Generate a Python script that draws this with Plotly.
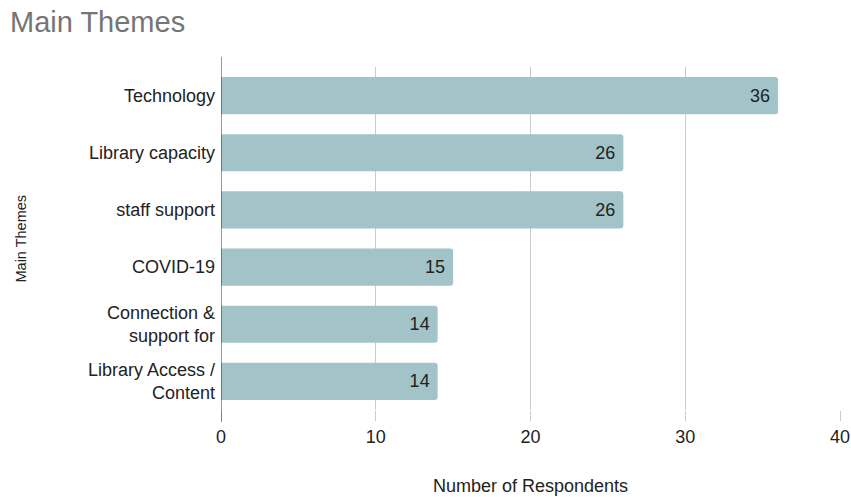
import plotly.graph_objects as go

categories = ["Technology", "Library capacity", "staff support", "COVID-19",
              "Connection &<br>support for", "Library Access /<br>Content"]
values = [36, 26, 26, 15, 14, 14]

FONT = "Liberation Sans, Arial, sans-serif"
W, H = 851, 497
L, R, T, B = 221, 11, 67, 87
PW, PH = W - L - R, H - T - B

fig = go.Figure(go.Bar(
    x=values, y=categories, orientation="h",
    marker=dict(color="#a2c4c9", line=dict(width=0)),
    text=[str(v) + "\u00a0" for v in values], textposition="inside",
    insidetextanchor="end",
    textfont=dict(color="#222222", size=18, family=FONT),
    width=0.65,
))

fig.update_layout(
    width=W, height=H,
    margin=dict(l=L, r=R, t=T, b=B, autoexpand=False),
    paper_bgcolor="white", plot_bgcolor="white",
    barcornerradius=3,
    font=dict(family=FONT, size=18, color="#222222"),
    title=dict(text="Main Themes", xref="container", yref="container",
               x=10 / W, xanchor="left", y=1 - 22 / H, yanchor="middle",
               font=dict(size=29, color="#757575")),
    showlegend=False,
    xaxis=dict(range=[0, 40], tickvals=[0, 10, 20, 30, 40], showgrid=True,
               gridcolor="#cccccc", gridwidth=1, zeroline=False, automargin=False,
               ticks="outside", ticklen=10, tickcolor="#cccccc",
               tickfont=dict(size=18, color="#222222")),
    yaxis=dict(autorange="reversed", showgrid=False, zeroline=False, automargin=False,
               ticks="", ticklabelstandoff=5,
               tickfont=dict(size=18, color="#222222")),
)

fig.add_annotation(text="Main Themes", textangle=-90, xref="paper", yref="paper",
                   x=(20 - L) / PW, y=0.5, xanchor="center", yanchor="middle",
                   showarrow=False, font=dict(size=14.5, color="#222222"))
fig.add_annotation(text="Number of Respondents", xref="paper", yref="paper",
                   x=(530 - L) / PW, y=-(486 - (H - B)) / PH, xanchor="center",
                   yanchor="middle", showarrow=False,
                   font=dict(size=18, color="#222222"))

fig.add_shape(type="line", xref="x", yref="paper", x0=0, x1=0, y0=-0.035, y1=1.03,
              line=dict(color="#333333", width=1))

fig.write_html("out.html", config={"displayModeBar": False},
               post_script="document.body.style.margin='0';document.body.style.overflow='hidden';")
